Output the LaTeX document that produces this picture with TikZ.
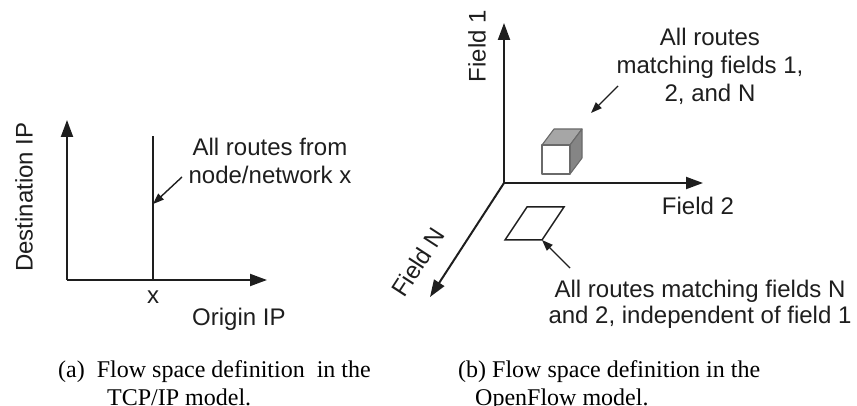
\documentclass[tikz,border=0pt]{standalone}
\usepackage{fontspec}
\setmainfont{Liberation Serif}
\newfontfamily\labelfont{Liberation Sans}
\usetikzlibrary{arrows.meta}
\definecolor{inkline}{HTML}{1E1E1E}
\definecolor{cubetop}{HTML}{A6A6A6}
\definecolor{cubeside}{HTML}{858585}
\definecolor{cubeedge}{HTML}{6A6A6A}
\begin{document}
\begin{tikzpicture}[x=1pt,y=-1pt,
  lbl/.style={font=\labelfont\fontsize{24}{28}\selectfont, inner sep=0pt, align=center, text=inkline},
  captext/.style={font=\fontsize{24}{28}\selectfont, inner sep=0pt, anchor=base west},
  axisline/.style={draw=inkline, line width=2pt, -{Triangle[length=17pt,width=12pt]}},
  pointer/.style={draw=inkline, line width=1.4pt, -{Triangle[length=11pt,width=8pt]}},
  cubeface/.style={draw=cubeedge, line width=1.1pt, line join=round},
]
\useasboundingbox (0,0) rectangle (857,406);

% ---------- (a) TCP/IP flow space ----------
\coordinate (oA) at (67,280);
\coordinate (yA) at (67,120);
\coordinate (xA) at (267,280);
\coordinate (xTop) at (153,136);
\coordinate (xBot) at (153,280);
\coordinate (xHit) at (153,204);
\coordinate (xTail) at (182,177);

\draw[axisline] (oA) -- (yA);
\draw[axisline] (oA) -- (xA);
\draw[draw=inkline, line width=1.3pt] (xBot) -- (xTop);
\draw[pointer] (xTail) -- (xHit);

\node[lbl, rotate=90] (dstip) at (24,197) {Destination IP};
\node[lbl, anchor=base] (xlab) at (153,303) {x};
\node[lbl, anchor=base west] (origip) at (192,325) {Origin IP};
\node[lbl] (routesx) at (270,160.5) {All routes from\\node/network x};

% ---------- (b) OpenFlow flow space ----------
\coordinate (oB) at (504,183);
\coordinate (f1) at (504,23);
\coordinate (f2) at (703,183);
\coordinate (fN) at (430,297);

\draw[axisline] (oB) -- (f1);
\draw[axisline] (oB) -- (f2);
\draw[axisline] (oB) -- (fN);

\node[lbl, rotate=90] (field1) at (477,46) {Field 1};
\node[lbl, anchor=base] (field2) at (698,215) {Field 2};
\node[lbl, rotate=57] (fieldN) at (418,262) {Field N};

% cube: region matching all three fields
\coordinate (c1) at (542,145);
\coordinate (c2) at (570,145);
\coordinate (c3) at (570,174);
\coordinate (c4) at (542,174);
\coordinate (c5) at (554,129);
\coordinate (c6) at (582,129);
\coordinate (c7) at (582,158);
\fill[white] (c1) rectangle (c3);
\filldraw[cubeface, fill=cubetop] (c1) -- (c2) -- (c6) -- (c5) -- cycle;
\filldraw[cubeface, fill=cubeside] (c2) -- (c6) -- (c7) -- (c3) -- cycle;
\draw[cubeface] (c1) rectangle (c3);

\coordinate (cubeTail) at (618,86);
\coordinate (cubeHit) at (591,113);
\draw[pointer] (cubeTail) -- (cubeHit);
\node[lbl] (routes12N) at (710,66) {All routes\\matching fields 1,\\2, and N};

% flat patch: region matching fields N and 2
\coordinate (p1) at (505,240);
\coordinate (p2) at (542,240);
\coordinate (p3) at (564,207);
\coordinate (p4) at (527,207);
\draw[draw=inkline, line width=1.5pt, line join=miter] (p1) -- (p2) -- (p3) -- (p4) -- cycle;

\coordinate (patchTail) at (570,268);
\draw[pointer] (patchTail) -- (p2);
\node[lbl, font=\labelfont\fontsize{24}{26}\selectfont] (routesN2) at (700,304) {All routes matching fields N\\and 2, independent of field 1};

% ---------- captions ----------
\node[captext] (capA1) at (58,377) {(a)\ \ Flow space definition\ \ in the};
\node[captext] (capA2) at (107,405) {TCP/IP model.};
\node[captext] (capB1) at (458,377) {(b) Flow space definition in the};
\node[captext] (capB2) at (475,405) {OpenFlow model.};
\end{tikzpicture}
\end{document}
